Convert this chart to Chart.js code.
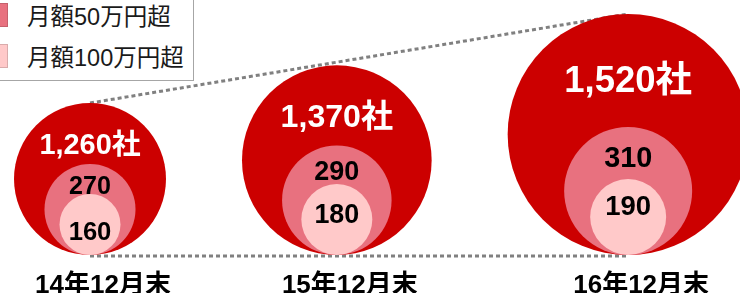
<!DOCTYPE html>
<html lang="ja">
<head>
<meta charset="utf-8">
<script src="https://cdn.jsdelivr.net/npm/chart.js@4.4.1/dist/chart.umd.min.js"></script>
<style>
    html, body { margin:0; padding:0; background:#fff; overflow:hidden; }
    #wrap { position:relative; width:740px; height:293px; }
    #legend {
        position:absolute; left:-20px; top:-10px; width:214px; height:91px;
        border:1px solid #a6a6a6; background:#fff; box-sizing:border-box;
        font-family:"Liberation Sans","Noto Sans CJK JP",sans-serif; font-size:23.5px; color:#1a1a1a;
    }
    .row { position:absolute; left:3px; height:24px; display:flex; align-items:center; white-space:nowrap; }
    .swatch { width:24px; height:24px; box-sizing:border-box; margin-right:19px; border:1px solid rgba(0,0,0,0.15); }
</style>
</head>
<body>
<div id="wrap">
    <canvas id="chart" width="740" height="293"></canvas>
    <div id="legend"></div>
</div>
<script>
const categories = ["14年12月末", "15年12月末", "16年12月末"];
const totalCompanies = [1260, 1370, 1520];
const over500k = [270, 290, 310];
const over1m = [160, 180, 190];
const seriesLabels = ["", "月額50万円超", "月額100万円超"];
const seriesColors = ["#cc0000", "#e8717f", "#ffc9c9"];

// the source exaggerates growth, so each ring maps its own value span to a radius span (px)
const ringRadius = [[76, 120.5], [45.5, 64], [30.5, 38]];
const leftMargin = 14, gap = 76;
const axisHeight = 38;

function radiusOf(values, i, span) {
    const lo = Math.min(...values), hi = Math.max(...values);
    return span[0] + (values[i] - lo) / (hi - lo) * (span[1] - span[0]);
}

const rings = [totalCompanies, over500k, over1m];
const outerR = totalCompanies.map((v, i) => radiusOf(totalCompanies, i, ringRadius[0]));
const centers = [];
outerR.forEach((r, i) => {
    const prev = i === 0 ? leftMargin : centers[i - 1] + outerR[i - 1] + gap;
    centers.push(prev + r);
});

// y = own radius so every ring sits on the same baseline (both scales run 1 unit = 1 px)
const datasets = rings.map((values, k) => ({
    label: seriesLabels[k],
    backgroundColor: seriesColors[k],
    borderWidth: 0,
    hoverRadius: 0,
    order: 3 - k,
    clip: false,
    data: values.map((v, i) => {
        const r = radiusOf(values, i, ringRadius[k]);
        return { x: centers[i], y: r, r, v };
    })
}));

const fontFamily = '"Liberation Sans", Arial, "Noto Sans CJK JP", sans-serif';

const guideLines = {
    id: "guideLines",
    beforeDatasetsDraw(chart) {
        const els = chart.getDatasetMeta(0).data;
        if (!els.length) return;
        const a = els[0], b = els[els.length - 1];
        const ra = a.options.radius, rb = b.options.radius;
        const c = chart.ctx;
        c.save();
        c.strokeStyle = "#808080";
        c.lineWidth = 3;
        c.setLineDash([4, 3]);
        c.beginPath();
        c.moveTo(a.x, a.y - ra); c.lineTo(b.x, b.y - rb);
        c.moveTo(a.x, a.y + ra + 1); c.lineTo(b.x, b.y + rb + 1);
        c.stroke();
        c.restore();
    }
};

const ringLabels = {
    id: "ringLabels",
    afterDatasetsDraw(chart) {
        const c = chart.ctx;
        c.save();
        c.textAlign = "center";
        c.textBaseline = "middle";
        chart.data.datasets.forEach((ds, k) => {
            chart.getDatasetMeta(k).data.forEach((el, i) => {
                const r = el.options.radius;
                const v = ds.data[i].v;
                let text, size, y, color;
                if (k === 0) {
                    text = v.toLocaleString("en-US") + "社";
                    size = 16 + 0.17 * r; y = el.y - 0.44 * r; color = "#fff";
                } else if (k === 1) {
                    text = String(v);
                    size = 16 + 0.2 * r; y = el.y - 0.5 * r; color = "#000";
                } else {
                    text = String(v);
                    size = 18 + 0.25 * r; y = el.y + (34 - r) * 2.3; color = "#000";
                }
                c.font = `bold ${size}px ${fontFamily}`;
                c.fillStyle = color;
                c.fillText(text, el.x, y);
            });
        });
        c.restore();
    }
};

const chart = new Chart(document.getElementById("chart"), {
    type: "bubble",
    data: { datasets },
    options: {
        responsive: false,
        animation: false,
        events: [],
        layout: { padding: 0, autoPadding: false },
        plugins: { legend: { display: false }, tooltip: { enabled: false } },
        scales: {
            x: {
                type: "linear", min: 0, max: 740,
                grid: { display: false, drawTicks: false },
                border: { display: false },
                afterBuildTicks: scale => { scale.ticks = centers.map(v => ({ value: v })); },
                afterFit: scale => { scale.height = axisHeight; },
                ticks: {
                    autoSkip: false, maxRotation: 0,
                    callback: (val, i) => categories[i],
                    font: { family: fontFamily, size: 26, weight: "bold", lineHeight: 1 },
                    color: "#000", padding: 18, labelOffset: 13
                }
            },
            y: { display: false, min: 0, max: 293 - axisHeight }
        }
    },
    plugins: [guideLines, ringLabels]
});

// legend built from the chart's own datasets (the total ring has no entry)
const legend = document.getElementById("legend");
chart.data.datasets.forEach((ds, k) => {
    if (!ds.label) return;
    const row = document.createElement("div");
    row.className = "row";
    row.style.top = (k === 1 ? 12 : 53) + "px";
    const sw = document.createElement("span");
    sw.className = "swatch";
    sw.style.background = ds.backgroundColor;
    const txt = document.createElement("span");
    txt.textContent = ds.label;
    row.appendChild(sw);
    row.appendChild(txt);
    legend.appendChild(row);
});
</script>
</body>
</html>
